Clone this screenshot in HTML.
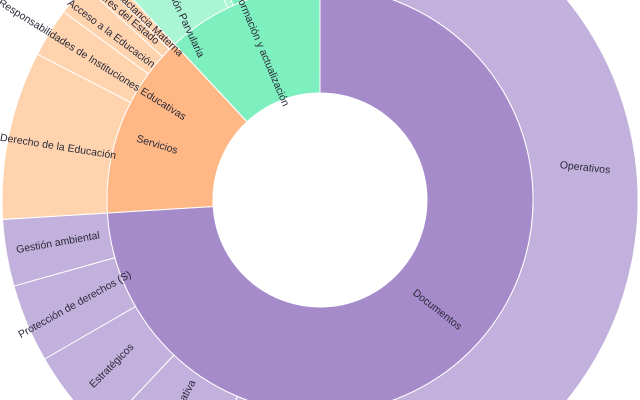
<!DOCTYPE html>
<html><head><meta charset="utf-8"><style>
html,body{margin:0;padding:0;background:#fff;width:640px;height:400px;overflow:hidden}
svg{display:block;overflow:hidden}
svg text{font-family:"Liberation Sans",sans-serif;font-size:10.5px;fill:#2a2a3a}
</style></head><body>
<svg id="s" width="640" height="400" viewBox="0 0 640 400">
<g id="arcs"></g>
<g>
<text transform="translate(585,168) rotate(6)" text-anchor="middle" dominant-baseline="middle">Operativos</text>
<text transform="translate(437,310) rotate(38)" text-anchor="middle" dominant-baseline="middle">Documentos</text>
<text transform="translate(58,243) rotate(-10)" text-anchor="middle" dominant-baseline="middle">Gestión ambiental</text>
<text transform="translate(75,305) rotate(-29)" text-anchor="middle" dominant-baseline="middle">Protección de derechos (S)</text>
<text transform="translate(112,366) rotate(-45)" text-anchor="middle" dominant-baseline="middle">Estratégicos</text>
<text transform="translate(182,402) rotate(-62)" text-anchor="middle" dominant-baseline="middle">Normativa</text>
<text transform="translate(58,147) rotate(9)" text-anchor="middle" dominant-baseline="middle">Derecho de la Educación</text>
<text transform="translate(157,145) rotate(17)" text-anchor="middle" dominant-baseline="middle">Servicios</text>
<text transform="translate(92,60) rotate(32)" text-anchor="middle" dominant-baseline="middle">Responsabilidades de Instituciones Educativas</text>
<text transform="translate(111,34) rotate(37)" text-anchor="middle" dominant-baseline="middle">Acceso a la Educación</text>
<text transform="translate(122,13) rotate(40)" text-anchor="middle" dominant-baseline="middle">Deberes del Estado</text>
<text transform="translate(150,25) rotate(44)" text-anchor="middle" dominant-baseline="middle">Lactancia Materna</text>
<text transform="translate(180,12) rotate(65)" text-anchor="middle" dominant-baseline="middle">Educación Parvularia</text>
<text transform="translate(262,50) rotate(67)" text-anchor="middle" dominant-baseline="middle">Formación y actualización</text>
</g>
</svg>
<script>
var cx=320,cy=200,R0=107,R1=213,R2=318;
function P(r,t){t=t*Math.PI/180;return [cx+r*Math.sin(t),cy-r*Math.cos(t)];}
function arc(r0,r1,a0,a1,fill){
 var la=(a1-a0)>180?1:0;
 var p1=P(r1,a0),p2=P(r1,a1),p3=P(r0,a1),p4=P(r0,a0);
 return '<path d="M'+p1+' A'+r1+','+r1+' 0 '+la+' 1 '+p2+' L'+p3+' A'+r0+','+r0+' 0 '+la+' 0 '+p4+'Z" fill="'+fill+'" stroke="#fff" stroke-width="1"/>';
}
var D='#a68bcb',DL='#c2b1dc',S='#ffb885',SL='#ffd3ae',G='#7eefbf',GL='#a9f5d4';
var h='';
h+=arc(R1,R2,0,202.8,DL);
h+=arc(R1,R2,202.8,223.3,DL);
h+=arc(R1,R2,223.3,240,DL);
h+=arc(R1,R2,240,254.3,DL);
h+=arc(R1,R2,254.3,266.5,DL);
h+=arc(R1,R2,266.5,297.3,SL);
h+=arc(R1,R2,297.3,306.3,SL);
h+=arc(R1,R2,306.3,312.3,SL);
h+=arc(R1,R2,312.3,315,SL);
h+=arc(R1,R2,315,317,SL);
h+=arc(R1,R2,317,334.4,GL);
h+=arc(R1,R2,334.4,336,GL);
h+=arc(R1,R2,336,359.99,G);
h+=arc(R0,R1,0,266.5,D);
h+=arc(R0,R1,266.5,317,S);
h+=arc(R0,R1,317,359.99,G);
document.getElementById('arcs').innerHTML=h;
</script>
</body></html>
